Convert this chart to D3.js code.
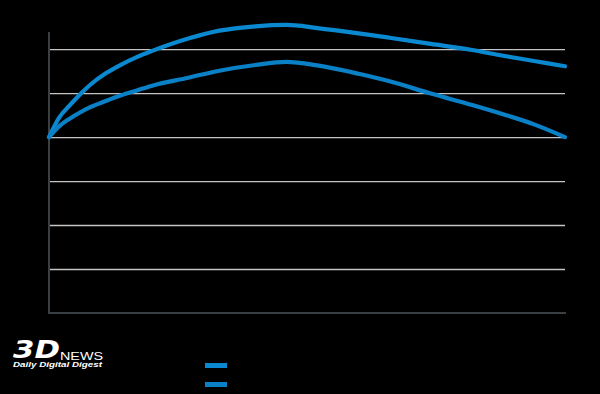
<!DOCTYPE html>
<html>
<head>
<meta charset="utf-8">
<script src="https://cdn.jsdelivr.net/npm/d3@7"></script>
<style>
  html, body { margin: 0; padding: 0; background: #000; }
  svg { display: block; }
</style>
</head>
<body>
<div id="chart"></div>
<script>
// data (x in % of the range, y in grid units, 0 at the middle line)
const xValues = [0, 2, 4, 6, 8, 11, 14, 17, 20, 27, 33, 40, 46, 52, 60, 66, 74, 82, 88, 94, 100];
const upperValues = [0, 0.45, 0.72, 0.97, 1.19, 1.45, 1.65, 1.82, 1.96, 2.24, 2.42, 2.52, 2.55, 2.48, 2.36, 2.26, 2.12, 1.98, 1.85, 1.73, 1.61];
const lowerValues = [0, 0.25, 0.42, 0.56, 0.68, 0.82, 0.95, 1.06, 1.17, 1.35, 1.51, 1.64, 1.71, 1.63, 1.44, 1.27, 0.99, 0.73, 0.52, 0.29, 0];
const yTicks = [-3, -2, -1, 0, 1, 2];
const seriesColors = ['#0a88d0', '#0a80c6'];

const width = 600;
const height = 394;
const margin = { top: 32, right: 35, bottom: 81, left: 49 };

const x = d3.scaleLinear()
  .domain([0, 100])
  .range([margin.left, width - margin.right]);

const y = d3.scaleLinear()
  .domain([-4, 2.39])
  .range([height - margin.bottom, margin.top]);

const svg = d3.select('#chart')
  .append('svg')
  .attr('width', width)
  .attr('height', height);

svg.append('rect')
  .attr('width', width)
  .attr('height', height)
  .attr('fill', '#000');

// gridlines
const yG = svg.append('g')
  .attr('transform', `translate(${margin.left},0)`)
  .call(
    d3.axisLeft(y)
      .tickValues(yTicks)
      .tickSize(-(width - margin.left - margin.right))
      .tickFormat('')
  );
yG.select('.domain').remove();
yG.selectAll('line')
  .style('stroke', '#c4c4c4')
  .style('stroke-width', 1.4);

// axis lines
svg.append('line')
  .attr('x1', margin.left)
  .attr('x2', margin.left)
  .attr('y1', y(2.39))
  .attr('y2', y(-4) + 1)
  .style('stroke', '#3a3f43')
  .style('stroke-width', 2);

svg.append('line')
  .attr('x1', margin.left - 1)
  .attr('x2', x(100) + 1)
  .attr('y1', y(-4))
  .attr('y2', y(-4))
  .style('stroke', '#3a3f43')
  .style('stroke-width', 2);

// curves
const line = d3.line()
  .x(d => x(d[0]))
  .y(d => y(d[1]))
  .curve(d3.curveMonotoneX);

[upperValues, lowerValues].forEach((vals, i) => {
  svg.append('path')
    .datum(xValues.map((xv, j) => [xv, vals[j]]))
    .attr('fill', 'none')
    .attr('stroke', seriesColors[i])
    .attr('stroke-width', 4.2)
    .attr('stroke-linecap', 'round')
    .attr('stroke-linejoin', 'round')
    .attr('d', line);
});

// legend swatches
seriesColors.forEach((c, i) => {
  svg.append('rect')
    .attr('x', 205)
    .attr('y', 363 + i * 19)
    .attr('width', 22)
    .attr('height', 5)
    .attr('fill', c);
});

// logo
const logo = svg.append('g').attr('fill', '#fff');
logo.append('text')
  .attr('x', 13)
  .attr('y', 358)
  .attr('textLength', 47)
  .attr('lengthAdjust', 'spacingAndGlyphs')
  .style('font-family', 'DejaVu Sans, sans-serif')
  .style('font-weight', 'bold')
  .style('font-style', 'italic')
  .style('font-size', '25px')
  .text('3D');
logo.append('text')
  .attr('x', 60)
  .attr('y', 360)
  .attr('textLength', 43)
  .attr('lengthAdjust', 'spacingAndGlyphs')
  .style('font-family', 'Liberation Sans, sans-serif')
  .style('font-size', '10px')
  .text('NEWS');
logo.append('text')
  .attr('x', 13)
  .attr('y', 367)
  .attr('textLength', 89)
  .attr('lengthAdjust', 'spacingAndGlyphs')
  .style('font-family', 'Liberation Sans, sans-serif')
  .style('font-weight', 'bold')
  .style('font-style', 'italic')
  .style('font-size', '7.5px')
  .text('Daily Digital Digest');
</script>
</body>
</html>
